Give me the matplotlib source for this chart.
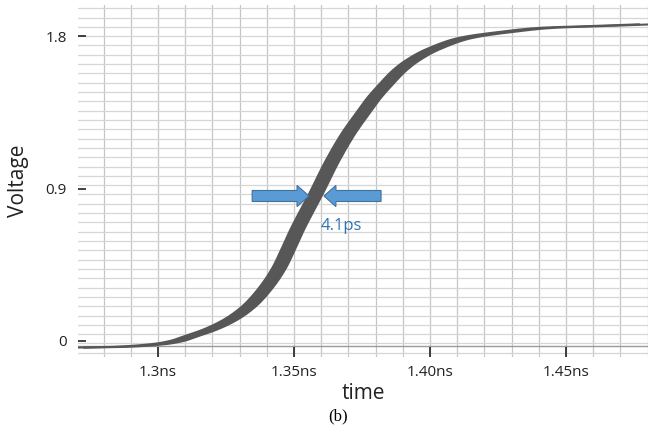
import numpy as np
import matplotlib
matplotlib.use("Agg")
import matplotlib.pyplot as plt
from matplotlib.patches import FancyArrow

plt.rcParams['font.family'] = ['Open Sans', 'DejaVu Sans']

# centre of the transition band (time in ns, voltage in V)
t_ns = [1.2702, 1.2857, 1.2996, 1.3070, 1.3114, 1.3188, 1.3265, 1.3335,
        1.3397, 1.3445, 1.3474, 1.3511, 1.3581, 1.3640, 1.3702, 1.3746,
        1.3794, 1.3838, 1.3886, 1.3934, 1.4007, 1.4132, 1.4254, 1.4438,
        1.4621, 1.4794]
volts = [-0.04, -0.035, -0.02, 0.0, 0.024, 0.065, 0.124, 0.205,
         0.315, 0.43, 0.525, 0.655, 0.87, 1.06, 1.23, 1.33,
         1.435, 1.515, 1.595, 1.655, 1.72, 1.79, 1.82, 1.85,
         1.86, 1.87]
jitter_ps = 5.0  # horizontal width of the band

y_ticks = [0, 0.9, 1.8]
y_labels = ["0", "0.9", "1.8"]
x_ticks = [1.30, 1.35, 1.40, 1.45]
x_labels = ["1.3ns", "1.35ns", "1.40ns", "1.45ns"]

# measurement arrows (tail, tip) and label
arrow_left = (1.3346, 1.3555)
arrow_right = (1.3820, 1.3610)
arrow_v = 0.856
meas_label = "4.1ps"


def smooth_path(x, y, n=8):
    # monotone cubic (pchip) so the band is drawn as a smooth curve
    x = np.asarray(x, float)
    y = np.asarray(y, float)
    hk = np.diff(x)
    dk = np.diff(y) / hk
    m = np.zeros_like(y)
    for k in range(1, len(x) - 1):
        if dk[k - 1] * dk[k] > 0:
            w1 = 2 * hk[k] + hk[k - 1]
            w2 = hk[k] + 2 * hk[k - 1]
            m[k] = (w1 + w2) / (w1 / dk[k - 1] + w2 / dk[k])
    m[0], m[-1] = dk[0], dk[-1]
    xs, ys = [], []
    for k in range(len(x) - 1):
        s = np.linspace(0, 1, n, endpoint=False)
        h00 = 2 * s**3 - 3 * s**2 + 1
        h10 = s**3 - 2 * s**2 + s
        h01 = -2 * s**3 + 3 * s**2
        h11 = s**3 - s**2
        xs.append(x[k] + s * hk[k])
        ys.append(h00 * y[k] + h10 * hk[k] * m[k] + h01 * y[k + 1] + h11 * hk[k] * m[k + 1])
    xs.append([x[-1]])
    ys.append([y[-1]])
    return np.concatenate(xs), np.concatenate(ys)


fig = plt.figure(figsize=(6.54, 4.32), dpi=100)
ax = fig.add_axes([0.119, 0.174, 0.872, 0.814])
ax.set_xlim(1.2705, 1.4802)
ax.set_ylim(-0.094, 1.983)

# grid
for xv in np.arange(1.28, 1.4805, 0.01):
    ax.axvline(xv, color="#c6c6c6", lw=0.9, zorder=0)
for yv in np.arange(1.8 - 0.055 * 34, 2.0, 0.055):
    ax.axhline(yv, color="#d6d6d6", lw=0.9, zorder=0)
ax.axhline(-0.03, color="#9a9a9a", lw=1.0, zorder=0)

# band
t, v = smooth_path(t_ns, volts)
h = jitter_ps / 2000.0
ax.fill(np.concatenate([t - h, (t + h)[::-1]]),
        np.concatenate([v, v[::-1]]), color="#575757", lw=0, zorder=2)
ax.plot(t - h, v, color="#575757", lw=1.5, zorder=2, solid_capstyle="round")
ax.plot(t + h, v, color="#575757", lw=1.5, zorder=2, solid_capstyle="round")

# arrows
for tail, tip in (arrow_left, arrow_right):
    ax.add_patch(FancyArrow(tail, arrow_v, tip - tail, 0, width=0.065,
                            head_width=0.125, head_length=0.0044,
                            length_includes_head=True, fc="#5b9bd5",
                            ec="#41719c", lw=0.8, zorder=3))
ax.text(1.3599, 0.68, meas_label, color="#2e75b6", fontsize=12,
        ha="left", va="center", zorder=3)

for s in ax.spines.values():
    s.set_visible(False)
ax.set_yticks(y_ticks)
ax.set_yticklabels(y_labels)
ax.set_xticks(x_ticks)
ax.set_xticklabels(x_labels)
ax.tick_params(axis="y", direction="in", length=6, width=1.2, pad=8,
               labelsize=11, colors="#222222")
ax.tick_params(axis="x", direction="in", length=7, width=1.2, pad=6,
               labelsize=11, colors="#222222")

ax.set_ylabel("Voltage", fontsize=15, color="#222222", labelpad=12)
ax.set_xlabel("time", fontsize=15, color="#222222", labelpad=2)
fig.text(0.517, 0.037, "(b)", family="Liberation Serif", fontsize=12,
         ha="center", va="center")

fig.savefig("out.png", dpi=100)
